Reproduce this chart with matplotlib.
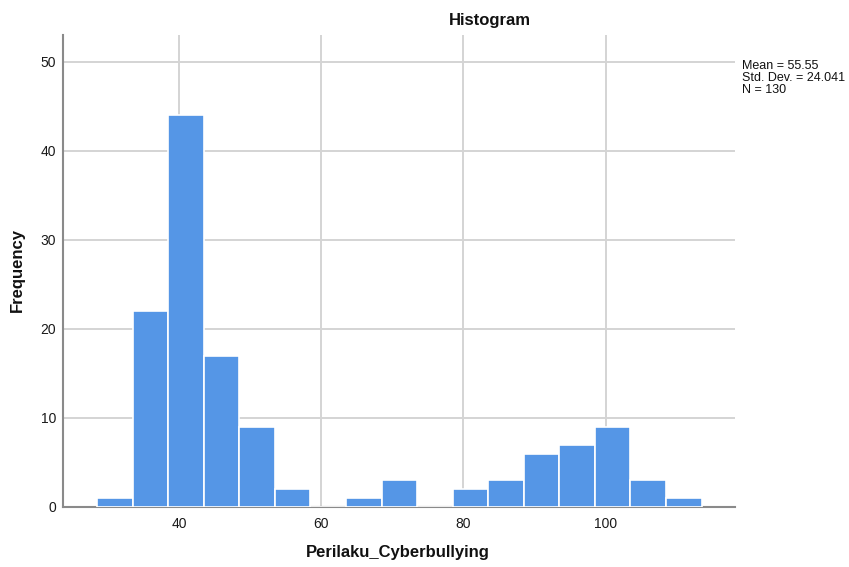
import matplotlib
matplotlib.use("Agg")
import matplotlib.pyplot as plt
import numpy as np

plt.rcParams['font.family'] = ['Liberation Sans', 'DejaVu Sans']

bin_start = 28.5
bin_width = 5.0
counts = [1, 22, 44, 17, 9, 2, 0, 1, 3, 0, 2, 3, 6, 7, 9, 3, 1]
x_ticks = [40, 60, 80, 100]
y_ticks = [0, 10, 20, 30, 40, 50]
stats_text = "Mean = 55.55\nStd. Dev. = 24.041\nN = 130"
title = "Histogram"
xlabel = "Perilaku_Cyberbullying"
ylabel = "Frequency"

edges = bin_start + bin_width * np.arange(len(counts))

fig = plt.figure(figsize=(8.49, 5.67), dpi=100)
ax = fig.add_axes([63/849, 60/567, (735-63)/849, (507-35)/567])

ax.set_axisbelow(True)
ax.grid(True, color='#d4d4d4', linewidth=1.4)
ax.bar(edges, counts, width=bin_width, align='edge', color='#5596e6',
       edgecolor='white', linewidth=1.2, zorder=3)

ax.set_xlim(23.7, 118.2)
ax.set_ylim(0, 53)
ax.set_xticks(x_ticks)
ax.set_yticks(y_ticks)
ax.tick_params(length=0, labelsize=10, colors='#1a1a1a')
ax.tick_params(axis='y', pad=5)
ax.tick_params(axis='x', pad=7)
for s in ['top', 'right']:
    ax.spines[s].set_visible(False)
for s in ['left', 'bottom']:
    ax.spines[s].set_color('#8a8a8a')
    ax.spines[s].set_linewidth(1.5)

fig.text(490/849, 1 - 20/567, title, ha='center', va='center',
         fontsize=12, fontweight='bold', color='#111111')
fig.text(398/849, 1 - 553/567, xlabel, ha='center', va='center',
         fontsize=12, fontweight='bold', color='#111111')
fig.text(17/849, 1 - 270/567, ylabel, ha='center', va='center', rotation=90,
         fontsize=12, fontweight='bold', color='#111111')
fig.text(742/849, 1 - 60/567, stats_text, ha='left', va='top',
         fontsize=9, color='#111111', linespacing=1.0)

fig.savefig("out.png", dpi=100)
